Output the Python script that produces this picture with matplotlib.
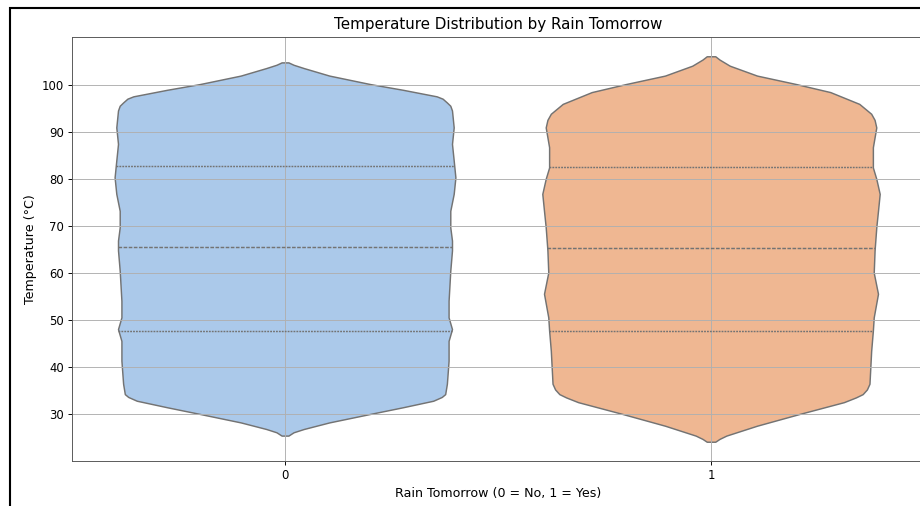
import numpy as np
import matplotlib
matplotlib.use("Agg")
import matplotlib.pyplot as plt
import seaborn as sns
from matplotlib.patches import Rectangle

# ------------------------------------------------------------
# Violin profiles (temperature, relative density)
# ------------------------------------------------------------
categories = ["0", "1"]

temp_no = [25.5, 26.2, 26.9, 28.3, 30.1, 31.5, 32.9, 33.7, 34.3, 36.5, 41.4,
           45.6, 48.1, 50.6, 54.1, 60.5, 64.8, 66.9, 69.7, 73.2, 76.8, 80.3,
           83.9, 87.4, 90.9, 94.5, 95.5, 96.2, 97.0, 97.5, 98.9, 100.1, 101.9,
           103.5, 104.2, 104.7]
dens_no = [0.02, 0.05, 0.11, 0.26, 0.50, 0.69, 0.87, 0.92, 0.94, 0.95, 0.96,
           0.96, 0.98, 0.96, 0.96, 0.97, 0.98, 0.98, 0.97, 0.97, 0.99, 1.00,
           0.99, 0.98, 0.99, 0.98, 0.97, 0.95, 0.925, 0.89, 0.69, 0.50, 0.26,
           0.11, 0.05, 0.02]

temp_yes = [24.2, 24.8, 25.5, 27.6, 30.1, 32.6, 33.6, 34.3, 35.3, 36.5, 40.0,
            43.5, 47.8, 50.6, 55.6, 60.1, 64.8, 69.7, 73.2, 76.8, 80.0, 82.4,
            86.7, 90.9, 92.5, 93.8, 95.9, 98.4, 100.1, 101.9, 104.0, 105.3,
            106.0]
dens_yes = [0.025, 0.05, 0.09, 0.27, 0.52, 0.78, 0.85, 0.89, 0.915, 0.93, 0.935,
            0.94, 0.95, 0.955, 0.98, 0.955, 0.96, 0.97, 0.98, 0.99, 0.97, 0.95,
            0.95, 0.97, 0.96, 0.94, 0.87, 0.70, 0.50, 0.27, 0.11, 0.05,
            0.025]

# quartiles (25%, 50%, 75%)
quart_no = [47.8, 65.6, 82.8]
quart_yes = [47.8, 65.3, 82.6]

# ------------------------------------------------------------
# Plot
# ------------------------------------------------------------
DPI = 84
fig = plt.figure(figsize=(920 / DPI, 506 / DPI), dpi=DPI)
ax = fig.add_axes([72 / 920, 45 / 506, 852 / 920, 424 / 506])

colors = [sns.desaturate(c, 0.75) for c in sns.color_palette("pastel")[:2]]
edge = "#737373"
half_width = 0.4

profiles = [(temp_no, dens_no, quart_no), (temp_yes, dens_yes, quart_yes)]
for i, (t, d, q) in enumerate(profiles):
    t = np.array(t)
    hw = np.array(d) * half_width
    ax.fill_betweenx(t, i - hw, i + hw, facecolor=colors[i], edgecolor=edge,
                     linewidth=1.25, zorder=1)
    for k, val in enumerate(q):
        w = np.interp(val, t, hw)
        dashes = (2.5, 1) if k == 1 else (1.25, 0.75)
        ax.plot([i - w, i + w], [val, val], color=edge, linewidth=1.25,
                dashes=dashes, zorder=2)

ax.set_xlim(-0.5, 1.5)
ax.set_xticks(range(len(categories)))
ax.set_xticklabels(categories)
ax.set_yticks(range(30, 101, 10))

ax.set_title("Temperature Distribution by Rain Tomorrow", fontsize=13, pad=7)
ax.set_xlabel("Rain Tomorrow (0 = No, 1 = Yes)", fontsize=10.8)
ax.set_ylabel("Temperature (°C)", fontsize=10.8)
ax.tick_params(labelsize=10)
ax.grid(True)

for s in ax.spines.values():
    s.set_color("#555555")

# black frame of the screenshot
fig.add_artist(Rectangle((10 / 920, -0.1), 1.2, (506 - 7.8) / 506 + 0.1,
                         transform=fig.transFigure, fill=False,
                         edgecolor="black", linewidth=1.8))

fig.savefig("out.png", dpi=DPI)
